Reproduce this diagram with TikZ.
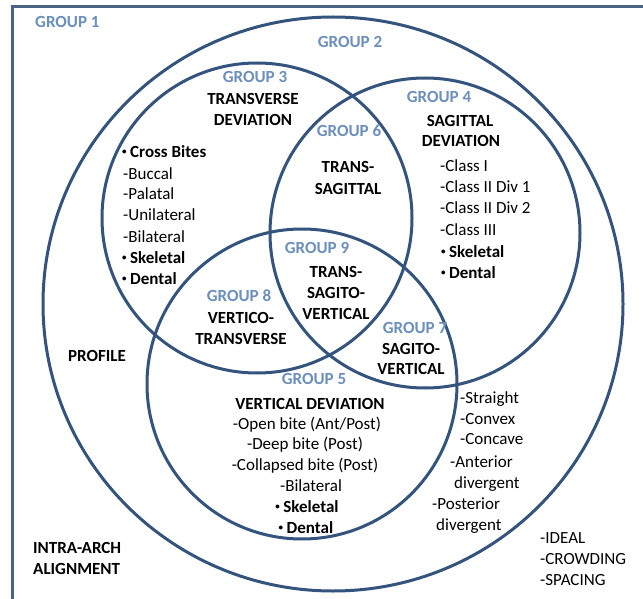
\documentclass[tikz,border=0pt]{standalone}
\usepackage{fontspec}
\setmainfont{Carlito}
\usepackage{tikz}
\definecolor{ringblue}{RGB}{52,84,126}
\definecolor{groupblue}{RGB}{108,143,188}
\definecolor{frameblue}{RGB}{74,98,132}
\newcommand{\ringcolor}{ringblue}
\newcommand{\ringwidth}{3pt}
\newcommand{\rad}{155}
\newcommand{\dotitem}{\raisebox{3pt}{\fontsize{9}{9}\selectfont •}\hspace{3.5pt}}

\tikzset{
  grp/.style={font=\bfseries, text=groupblue, inner sep=0pt, anchor=base},
  head/.style={font=\bfseries, inner sep=0pt, anchor=base},
  item/.style={inner sep=0pt, anchor=base west},
  citem/.style={inner sep=0pt, anchor=base},
  bitem/.style={font=\bfseries, inner sep=0pt, anchor=base west},
}

\begin{document}
\fontsize{17}{21}\selectfont
\begin{tikzpicture}[x=1pt, y=-1pt]
\useasboundingbox (0,0) rectangle (643,599);
\clip (0,0) rectangle (643,599);
\fill[white] (0,0) rectangle (643,599);
\coordinate (c2) at (333, 304);
\coordinate (c3) at (257, 218);
\coordinate (c4) at (425, 233);
\coordinate (c5) at (302, 384);
%frame and rings
\draw[frameblue, line width=\ringwidth] (12,7) rectangle (680,640);
\draw[\ringcolor, line width=\ringwidth] (c2) ellipse [x radius=290, y radius=287];
\draw[\ringcolor, line width=\ringwidth] (c3) circle [radius=\rad];
\draw[\ringcolor, line width=\ringwidth] (c4) circle [radius=\rad];
\draw[\ringcolor, line width=\ringwidth] (c5) circle [radius=\rad];
%1
\node[grp, anchor=base west] (g1) at (35, 28) {GROUP 1};
\node[head, anchor=base west] (intra) at (33, 553) {INTRA-ARCH};
\node[head, anchor=base west] (align) at (33, 574) {ALIGNMENT};
\node[item] (ideal) at (540, 543) {-IDEAL};
\node[item] (crowd) at (540, 564) {-CROWDING};
\node[item] (space) at (540, 585) {-SPACING};
%2
\node[grp] (g2) at (350, 48) {GROUP 2};
\node[head, anchor=base west] (profile) at (68, 361) {PROFILE};
\node[item] (straight) at (460, 403) {-Straight};
\node[item] (convex) at (460, 424) {-Convex};
\node[item] (concave) at (460, 444) {-Concave};
\node[item] (ant) at (450, 467) {-Anterior};
\node[item] (antdiv) at (454, 488) {divergent};
\node[item] (post) at (432, 509) {-Posterior};
\node[item] (postdiv) at (436, 530) {divergent};
%3
\node[grp] (g3) at (255, 83) {GROUP 3};
\node[head] (trans) at (253, 105) {TRANSVERSE};
\node[head] (transdev) at (253, 126) {DEVIATION};
\node[bitem] (cross) at (122, 158) {\dotitem Cross Bites};
\node[item] (buccal) at (123, 179) {-Buccal};
\node[item] (palatal) at (123, 200) {-Palatal};
\node[item] (uni) at (123, 221) {-Unilateral};
\node[item] (bi) at (123, 242) {-Bilateral};
\node[bitem] (skel3) at (122, 263) {\dotitem Skeletal};
\node[bitem] (dent3) at (122, 284) {\dotitem Dental};
%4
\node[grp] (g4) at (439, 103) {GROUP 4};
\node[head] (sag) at (460, 127) {SAGITTAL};
\node[head] (sagdev) at (461, 147) {DEVIATION};
\node[item] (cl1) at (440, 172) {-Class I};
\node[item] (cl21) at (440, 193) {-Class II Div 1};
\node[item] (cl22) at (440, 214) {-Class II Div 2};
\node[item] (cl3) at (440, 235) {-Class III};
\node[bitem] (skel4) at (441, 257) {\dotitem Skeletal};
\node[bitem] (dent4) at (441, 278) {\dotitem Dental};
%5
\node[grp] (g5) at (314, 384) {GROUP 5};
\node[head] (vert) at (310, 409) {VERTICAL DEVIATION};
\node[citem] (open) at (307, 429) {-Open bite (Ant/Post)};
\node[citem] (deep) at (305, 449) {-Deep bite (Post)};
\node[citem] (coll) at (305, 470) {-Collapsed bite (Post)};
\node[citem] (bi5) at (311, 491) {-Bilateral};
\node[head] (skel5) at (307, 512) {\dotitem Skeletal};
\node[head] (dent5) at (306, 533) {\dotitem Dental};
%6
\node[grp] (g6) at (349, 137) {GROUP 6};
\node[head] (ts1) at (348, 173) {TRANS-};
\node[head] (ts2) at (348, 194) {SAGITTAL};
%7
\node[grp] (g7) at (415, 333) {GROUP 7};
\node[head] (sv1) at (411, 354) {SAGITO-};
\node[head] (sv2) at (411, 374) {VERTICAL};
%8
\node[grp] (g8) at (239, 301) {GROUP 8};
\node[head] (vt1) at (241, 323) {VERTICO-};
\node[head] (vt2) at (241, 344) {TRANSVERSE};
%9
\node[grp] (g9) at (317, 253) {GROUP 9};
\node[head] (tsv1) at (336, 277) {TRANS-};
\node[head] (tsv2) at (336, 298) {SAGITO-};
\node[head] (tsv3) at (336, 319) {VERTICAL};
\end{tikzpicture}
\end{document}
